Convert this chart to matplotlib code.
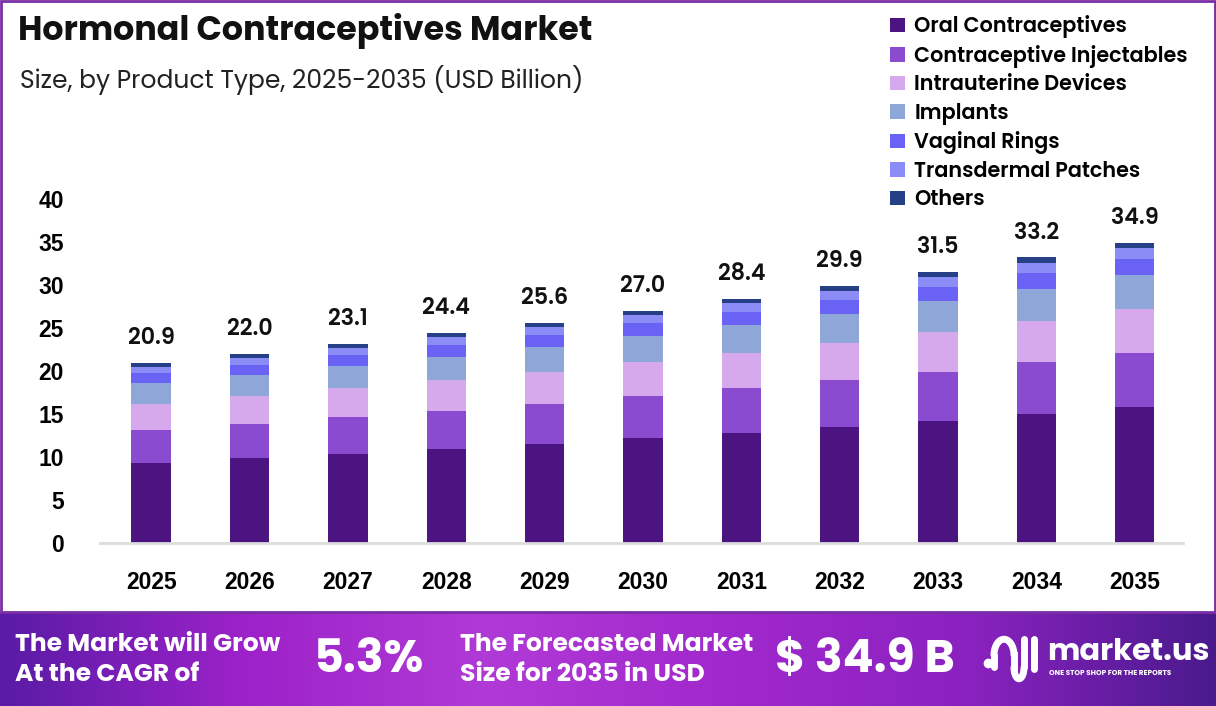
import numpy as np
import matplotlib.pyplot as plt
from matplotlib.colors import LinearSegmentedColormap
from matplotlib.patches import Rectangle

plt.rcParams['font.family'] = ['Poppins', 'Inter', 'DejaVu Sans']

years = ['2025', '2026', '2027', '2028', '2029', '2030', '2031', '2032', '2033', '2034', '2035']
totals = [20.9, 22.0, 23.1, 24.4, 25.6, 27.0, 28.4, 29.9, 31.5, 33.2, 34.9]

oral = [9.3, 9.9, 10.35, 10.9, 11.5, 12.2, 12.8, 13.5, 14.2, 15.0, 15.8]
injectables = [3.8, 3.9, 4.3, 4.45, 4.7, 4.9, 5.2, 5.45, 5.7, 6.0, 6.3]
iud = [3.1, 3.3, 3.35, 3.6, 3.7, 3.9, 4.1, 4.3, 4.6, 4.8, 5.1]
implants = [2.4, 2.4, 2.6, 2.65, 2.9, 3.1, 3.25, 3.35, 3.6, 3.7, 4.0]
vaginal = [1.15, 1.25, 1.25, 1.4, 1.4, 1.45, 1.5, 1.65, 1.7, 1.85, 1.85]
patches = [0.75, 0.8, 0.8, 0.9, 0.9, 0.95, 1.0, 1.1, 1.1, 1.2, 1.3]
others = [0.4, 0.45, 0.45, 0.5, 0.5, 0.5, 0.55, 0.55, 0.6, 0.65, 0.55]

segments = ['Oral Contraceptives', 'Contraceptive Injectables', 'Intrauterine Devices',
            'Implants', 'Vaginal Rings', 'Transdermal Patches', 'Others']
series = [oral, injectables, iud, implants, vaginal, patches, others]
colors = ['#4b1480', '#8a4bd0', '#d6a8ec', '#8ea6d8', '#6a62f4', '#8c8cf6', '#263f86']

fig = plt.figure(figsize=(12.16, 7.06), dpi=100)
fig.patch.set_facecolor('white')

ax = fig.add_axes([100 / 1216, 1 - 543 / 706, 1083 / 1216, 344 / 706])
x = np.arange(len(years))
bottom = np.zeros(len(years))
for name, vals, c in zip(segments, series, colors):
    ax.bar(x, vals, width=0.4, bottom=bottom, color=c, label=name, zorder=2)
    bottom += np.array(vals)

for xi, t, b in zip(x, totals, bottom):
    ax.text(xi, b + 1.5, f'{t:.1f}', ha='center', va='bottom', fontsize=16,
            fontweight='semibold', color='#111111')

ax.set_xlim(-0.52, 10.49)
ax.set_ylim(0, 40)
ax.set_yticks(range(0, 41, 5))
ax.set_xticks(x)
ax.set_xticklabels(years)
ax.tick_params(axis='both', length=0)
ax.tick_params(axis='x', pad=20)
ax.tick_params(axis='y', pad=26)
for lab in ax.get_xticklabels() + ax.get_yticklabels():
    lab.set_fontweight('bold')
    lab.set_fontfamily(['Liberation Sans', 'DejaVu Sans'])
    lab.set_fontsize(16.5)
for s in ['top', 'right', 'left']:
    ax.spines[s].set_visible(False)
ax.spines['bottom'].set_color('#dcdcdc')
ax.spines['bottom'].set_linewidth(2)

# legend
handles, labels = ax.get_legend_handles_labels()
fig.legend(handles, labels, loc='upper left', bbox_to_anchor=(882 / 1216, 1 - 7 / 706),
           frameon=False, fontsize=15, handlelength=0.7, handleheight=0.7,
           handletextpad=0.45, labelspacing=0.31, borderaxespad=0)
for t in fig.legends[0].get_texts():
    t.set_fontweight('semibold')

fig.text(18 / 1216, 1 - 31 / 706, 'Hormonal Contraceptives Market', fontsize=24,
         fontweight='bold', va='center', ha='left', color='#111111')
fig.text(20 / 1216, 1 - 80 / 706, 'Size, by Product Type, 2025-2035 (USD Billion)',
         fontsize=18, va='center', ha='left', color='#222222')

# purple frame
fig.add_artist(Rectangle((1 / 1216, 94 / 706), 1214 / 1216, 611 / 706, transform=fig.transFigure,
                         fill=False, edgecolor='#7a2ea6', linewidth=2))

# footer band
fax = fig.add_axes([0, 0, 1, 94 / 706])
cmap = LinearSegmentedColormap.from_list('band', ['#5a1ba6', '#9d22c9', '#b03ad6', '#a128cc',
                                                  '#8a22c0', '#4a1a8c'])
fax.imshow(np.linspace(0, 1, 400).reshape(1, -1), aspect='auto', cmap=cmap,
           extent=[0, 1, 0, 1])
fax.set_axis_off()
fax.set_xlim(0, 1)
fax.set_ylim(0, 1)

fax.text(15 / 1216, 0.64, 'The Market will Grow', color='white', fontsize=18,
         fontweight='bold', va='center')
fax.text(15 / 1216, 0.32, 'At the CAGR of', color='white', fontsize=18,
         fontweight='bold', va='center')
fax.text(368 / 1216, 0.48, '5.3%', color='white', fontsize=33, fontweight='bold',
         va='center', ha='center')
fax.text(460 / 1216, 0.64, 'The Forecasted Market', color='white', fontsize=18,
         fontweight='bold', va='center')
fax.text(460 / 1216, 0.32, 'Size for 2035 in USD', color='white', fontsize=18,
         fontweight='bold', va='center')
fax.text(865 / 1216, 0.48, '$ 34.9 B', color='white', fontsize=33, fontweight='bold',
         va='center', ha='center')
fax.text(1047 / 1216, 0.56, 'market.us', color='white', fontsize=22, fontweight='bold',
         va='center', ha='left')
fax.text(1049 / 1216, 0.35, 'ONE STOP SHOP FOR THE REPORTS', color='white', fontsize=5.2,
         fontweight='bold', va='center', ha='left')

# logo mark
sx = 1 / 1216
fax.plot([988 * sx], [0.46], marker='o', markersize=6, color='white', linestyle='none')
t = np.linspace(np.pi, 0, 40)
fax.plot(1004 * sx + 10 * sx * np.cos(t), 0.54 + 0.17 * np.sin(t), color='white', lw=5,
         solid_capstyle='round')
t2 = np.linspace(np.pi, 2 * np.pi, 40)
fax.plot(1019 * sx + 5 * sx * np.cos(t2), 0.41 + 0.12 * np.sin(t2), color='white', lw=5,
         solid_capstyle='round')
fax.plot([1014 * sx, 1014 * sx], [0.54, 0.41], color='white', lw=5)
fax.plot([1024 * sx, 1024 * sx], [0.41, 0.71], color='white', lw=5, solid_capstyle='round')
fax.plot([1034 * sx, 1034 * sx], [0.39, 0.71], color='white', lw=5, solid_capstyle='round')
fax.plot([994 * sx, 994 * sx], [0.54, 0.41], color='white', lw=5, solid_capstyle='round')

fig.savefig('out.png', dpi=100)
